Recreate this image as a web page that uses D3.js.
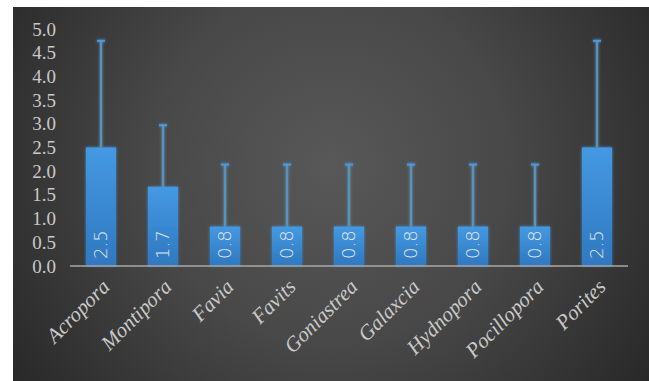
<!DOCTYPE html>
<html>
<head>
<meta charset="utf-8">
<script src="https://cdn.jsdelivr.net/npm/d3@7"></script>
<style>
    body { margin: 0; background: #fff; }
    svg { display: block; }
</style>
</head>
<body>
<div id="chart"></div>
<script>
// coral genera and their values
const genera = ["Acropora", "Montipora", "Favia", "Favits", "Goniastrea", "Galaxcia", "Hydnopora", "Pocillopora", "Porites"];
const means = [2.5, 1.67, 0.83, 0.83, 0.83, 0.83, 0.83, 0.83, 2.5];
const errors = [2.25, 1.3, 1.31, 1.31, 1.31, 1.31, 1.31, 1.31, 2.25];
const yTicks = [0, 0.5, 1, 1.5, 2, 2.5, 3, 3.5, 4, 4.5, 5];

const W = 649, H = 381;
const serif = "Liberation Serif";

const svg = d3.select("#chart").append("svg")
    .attr("width", W)
    .attr("height", H);

const defs = svg.append("defs");

const bg = defs.append("radialGradient")
    .attr("id", "bg")
    .attr("gradientUnits", "userSpaceOnUse")
    .attr("cx", 330).attr("cy", 165).attr("r", 400);
bg.append("stop").attr("offset", "0%").attr("stop-color", "#585858");
bg.append("stop").attr("offset", "45%").attr("stop-color", "#484848");
bg.append("stop").attr("offset", "100%").attr("stop-color", "#262626");

const barGrad = defs.append("linearGradient")
    .attr("id", "barGrad")
    .attr("x1", 0).attr("y1", 0).attr("x2", 0).attr("y2", 1);
barGrad.append("stop").attr("offset", "0%").attr("stop-color", "#4499e2");
barGrad.append("stop").attr("offset", "100%").attr("stop-color", "#2f78c0");

const glow = defs.append("filter").attr("id", "glow")
    .attr("x", "-50%").attr("y", "-50%").attr("width", "200%").attr("height", "200%");
glow.append("feGaussianBlur").attr("in", "SourceGraphic").attr("stdDeviation", 1.5).attr("result", "b");
const merge = glow.append("feMerge");
merge.append("feMergeNode").attr("in", "b");
merge.append("feMergeNode").attr("in", "SourceGraphic");

// panel
svg.append("rect")
    .attr("x", 13).attr("y", 7)
    .attr("width", W - 13).attr("height", H - 7)
    .attr("fill", "url(#bg)");

const x = d3.scaleBand()
    .domain(genera)
    .range([70, 628])
    .paddingInner(0.516)
    .paddingOuter(0.258);

const y = d3.scaleLinear()
    .domain([0, 5])
    .range([266, 29]);

// y axis labels
const yAxis = svg.append("g")
    .attr("transform", "translate(56,0)")
    .call(d3.axisLeft(y).tickValues(yTicks).tickFormat(d3.format(".1f")).tickSize(0).tickPadding(0));
yAxis.select(".domain").remove();
yAxis.selectAll("text")
    .attr("fill", "#c9c9c9")
    .attr("font-family", serif)
    .attr("font-size", 19);

// bars
svg.append("g").selectAll("rect")
    .data(genera)
    .join("rect")
    .attr("x", d => x(d))
    .attr("y", (d, i) => y(means[i]))
    .attr("width", x.bandwidth())
    .attr("height", (d, i) => y(0) - y(means[i]))
    .attr("fill", "url(#barGrad)")
    .attr("filter", "url(#glow)");

// error bars
const eb = svg.append("g")
    .attr("stroke", "#4f97dc")
    .attr("stroke-width", 1.5)
    .attr("filter", "url(#glow)");
genera.forEach((g, i) => {
    const cx = x(g) + x.bandwidth() / 2;
    const top = y(means[i] + errors[i]);
    eb.append("line")
        .attr("x1", cx).attr("x2", cx)
        .attr("y1", y(means[i])).attr("y2", top)
        .attr("stroke", "#8a9a55")
        .attr("stroke-width", 2.5)
        .attr("stroke-opacity", 0.5);
    eb.append("line")
        .attr("x1", cx).attr("x2", cx)
        .attr("y1", y(means[i])).attr("y2", top);
    eb.append("line")
        .attr("x1", cx - 4).attr("x2", cx + 4)
        .attr("y1", top).attr("y2", top)
        .attr("stroke-width", 2);
});

// x axis line
svg.append("line")
    .attr("x1", 70).attr("x2", 628)
    .attr("y1", y(0)).attr("y2", y(0))
    .attr("stroke", "#a8a8a8")
    .attr("stroke-width", 1.5);

// value labels inside bars
svg.append("g").selectAll("text")
    .data(genera)
    .join("text")
    .attr("transform", d => `translate(${x(d) + x.bandwidth() / 2 + 6},${y(0) - 7}) rotate(-90)`)
    .attr("fill", "#e6e6e6")
    .attr("font-family", "DejaVu Sans")
    .attr("font-size", 18)
    .attr("font-weight", 200)
    .text((d, i) => means[i].toFixed(1));

// category labels
svg.append("g").selectAll("text")
    .data(genera)
    .join("text")
    .attr("text-anchor", "end")
    .attr("transform", d => `translate(${x(d) + x.bandwidth() / 2 + 10},${y(0) + 22}) rotate(-45)`)
    .attr("fill", "#c9c9c9")
    .attr("font-family", serif)
    .attr("font-style", "italic")
    .attr("font-size", 21)
    .text(d => d);
</script>
</body>
</html>
